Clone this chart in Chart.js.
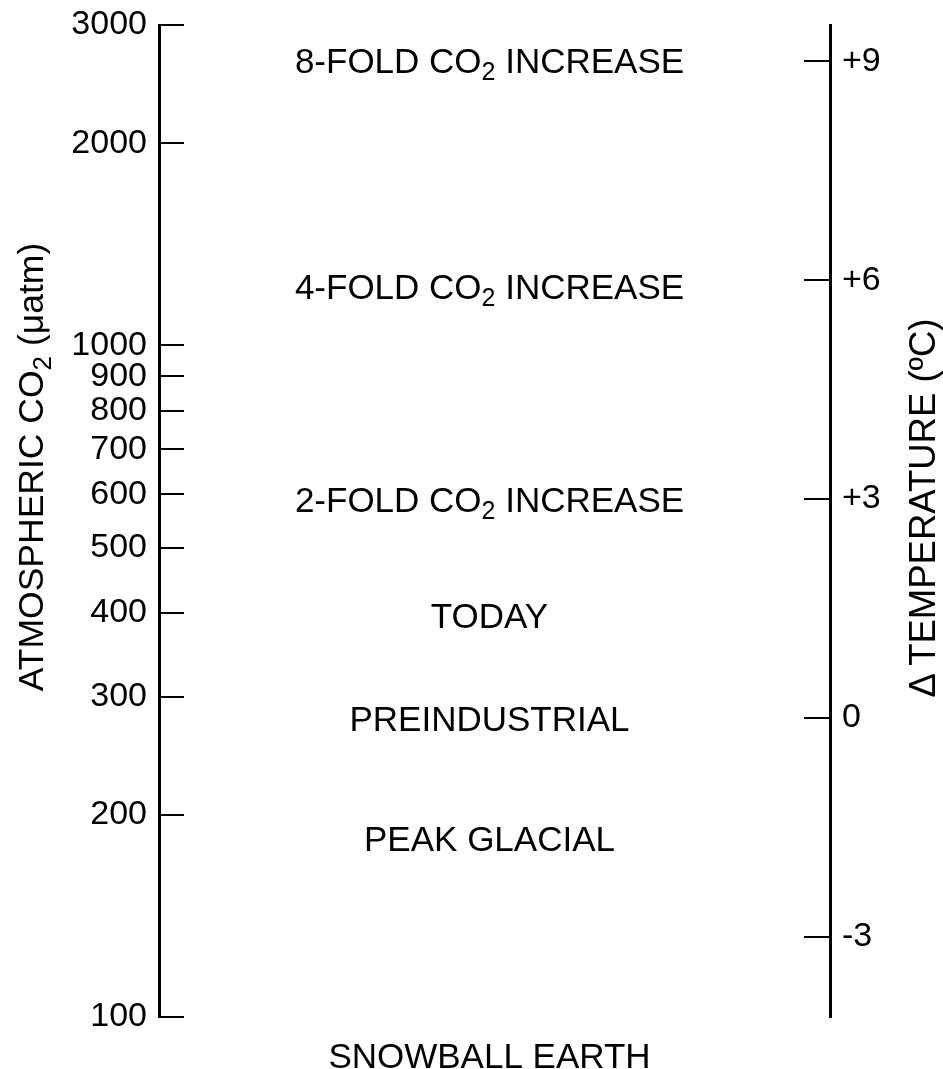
<!DOCTYPE html>
<html>
<head>
<meta charset="utf-8">
<script src="https://cdn.jsdelivr.net/npm/chart.js@4"></script>
<style>
  html, body { margin: 0; padding: 0; background: #fff; }
  #wrap { width: 943px; height: 1069px; }
</style>
</head>
<body>
<div id="wrap"><canvas id="co2_chart"></canvas></div>
<script>
// left axis: atmospheric CO2, log scale
var co2Ticks = [100, 200, 300, 400, 500, 600, 700, 800, 900, 1000, 2000, 3000];
var co2Min = 100;
var co2Max = 3000;

// right axis: temperature change
var tempTicks = [-3, 0, 3, 6, 9];
var tempTickLabels = ['-3', '0', '+3', '+6', '+9'];
var tempMin = -4.1;
var tempMax = 9.5;

// climate states, placed on the temperature scale ("_2" = subscript 2)
var stateNames = ['8-FOLD CO_2 INCREASE', '4-FOLD CO_2 INCREASE', '2-FOLD CO_2 INCREASE',
                  'TODAY', 'PREINDUSTRIAL', 'PEAK GLACIAL', 'SNOWBALL EARTH'];
var stateTemps = [9.02, 5.92, 3.0, 1.41, 0, -1.65, -4.62];

var FONT = '"Liberation Sans", Arial, Helvetica, sans-serif';

// draw text where "_2" parts are set as a lowered, smaller 2
function subText(ctx, text, x, y, size, align) {
    var parts = text.split('_');
    var pieces = [];
    var total = 0;
    for (var i = 0; i < parts.length; i++) {
        var s = parts[i];
        if (i > 0) {
            pieces.push({t: s.charAt(0), sub: true});
            s = s.substring(1);
        }
        if (s) pieces.push({t: s, sub: false});
    }
    pieces.forEach(function(p) {
        ctx.font = (p.sub ? Math.round(size * 0.72) : size) + 'px ' + FONT;
        p.w = ctx.measureText(p.t).width;
        total += p.w;
    });
    var cx = align === 'center' ? x - total / 2 : x;
    ctx.textAlign = 'left';
    ctx.textBaseline = 'alphabetic';
    pieces.forEach(function(p) {
        ctx.font = (p.sub ? Math.round(size * 0.72) : size) + 'px ' + FONT;
        ctx.fillText(p.t, cx, p.sub ? y + size * 0.22 : y);
        cx += p.w;
    });
}

var decorPlugin = {
    id: 'decor',
    afterDraw: function(chart) {
        var ctx = chart.ctx;
        var area = chart.chartArea;
        var yL = chart.scales.co2;
        var yR = chart.scales.temp;
        ctx.save();
        ctx.strokeStyle = '#000';
        ctx.fillStyle = '#000';

        // inward tick marks
        ctx.lineWidth = 2;
        ctx.beginPath();
        co2Ticks.forEach(function(v) {
            var y = Math.round(yL.getPixelForValue(v));
            ctx.moveTo(area.left, y);
            ctx.lineTo(area.left + 25, y);
        });
        tempTicks.forEach(function(v) {
            var y = Math.round(yR.getPixelForValue(v));
            ctx.moveTo(area.right, y);
            ctx.lineTo(area.right - 26, y);
        });
        ctx.stroke();

        // state labels
        var midX = (area.left + area.right) / 2 - 5;
        stateNames.forEach(function(name, i) {
            var y = yR.getPixelForValue(stateTemps[i]);
            subText(ctx, name, midX, y + 12.6, 35, 'center');
        });

        // axis titles, rotated
        ctx.save();
        ctx.translate(43, 467);
        ctx.rotate(-Math.PI / 2);
        subText(ctx, 'ATMOSPHERIC CO_2 (\u03bcatm)', 0, 0, 35.5, 'center');
        ctx.restore();

        ctx.save();
        ctx.translate(935, 508);
        ctx.rotate(-Math.PI / 2);
        subText(ctx, '\u0394\u2009TEMPERATURE (\u00baC)', 0, 0, 36.5, 'center');
        ctx.restore();

        ctx.restore();
    }
};

function fitWidth(w) {
    return function(scale) {
        scale.width = w;
        scale.paddingTop = 0;
        scale.paddingBottom = 0;
    };
}

function makeChart(canvas_id) {
    var ctx = document.getElementById(canvas_id).getContext('2d');
    return new Chart(ctx, {
        type: 'scatter',
        data: {
            datasets: [
                { data: [], yAxisID: 'co2' },
                { data: [], yAxisID: 'temp' }
            ]
        },
        options: {
            responsive: true,
            maintainAspectRatio: false,
            animation: false,
            events: [],
            layout: { padding: { top: 25, bottom: 52, left: 0, right: 0 } },
            plugins: { legend: { display: false }, tooltip: { enabled: false } },
            scales: {
                x: { display: false, min: 0, max: 1 },
                co2: {
                    type: 'logarithmic',
                    position: 'left',
                    min: co2Min,
                    max: co2Max,
                    afterBuildTicks: function(scale) {
                        scale.ticks = co2Ticks.map(function(v) { return {value: v}; });
                    },
                    afterFit: fitWidth(159),
                    grid: { display: true, drawOnChartArea: false, drawTicks: false },
                    border: { display: true, color: '#000', width: 3 },
                    ticks: {
                        color: '#000',
                        padding: 12,
                        autoSkip: false,
                        font: { family: FONT, size: 34 },
                        callback: function(v) { return String(v); }
                    }
                },
                temp: {
                    type: 'linear',
                    position: 'right',
                    min: tempMin,
                    max: tempMax,
                    afterBuildTicks: function(scale) {
                        scale.ticks = tempTicks.map(function(v) { return {value: v}; });
                    },
                    afterFit: fitWidth(113),
                    grid: { display: true, drawOnChartArea: false, drawTicks: false },
                    border: { display: true, color: '#000', width: 3 },
                    ticks: {
                        color: '#000',
                        padding: 12,
                        autoSkip: false,
                        font: { family: FONT, size: 34 },
                        callback: function(v) {
                            return tempTickLabels[tempTicks.indexOf(v)];
                        }
                    }
                }
            }
        },
        plugins: [decorPlugin]
    });
}

makeChart('co2_chart');
</script>
</body>
</html>
